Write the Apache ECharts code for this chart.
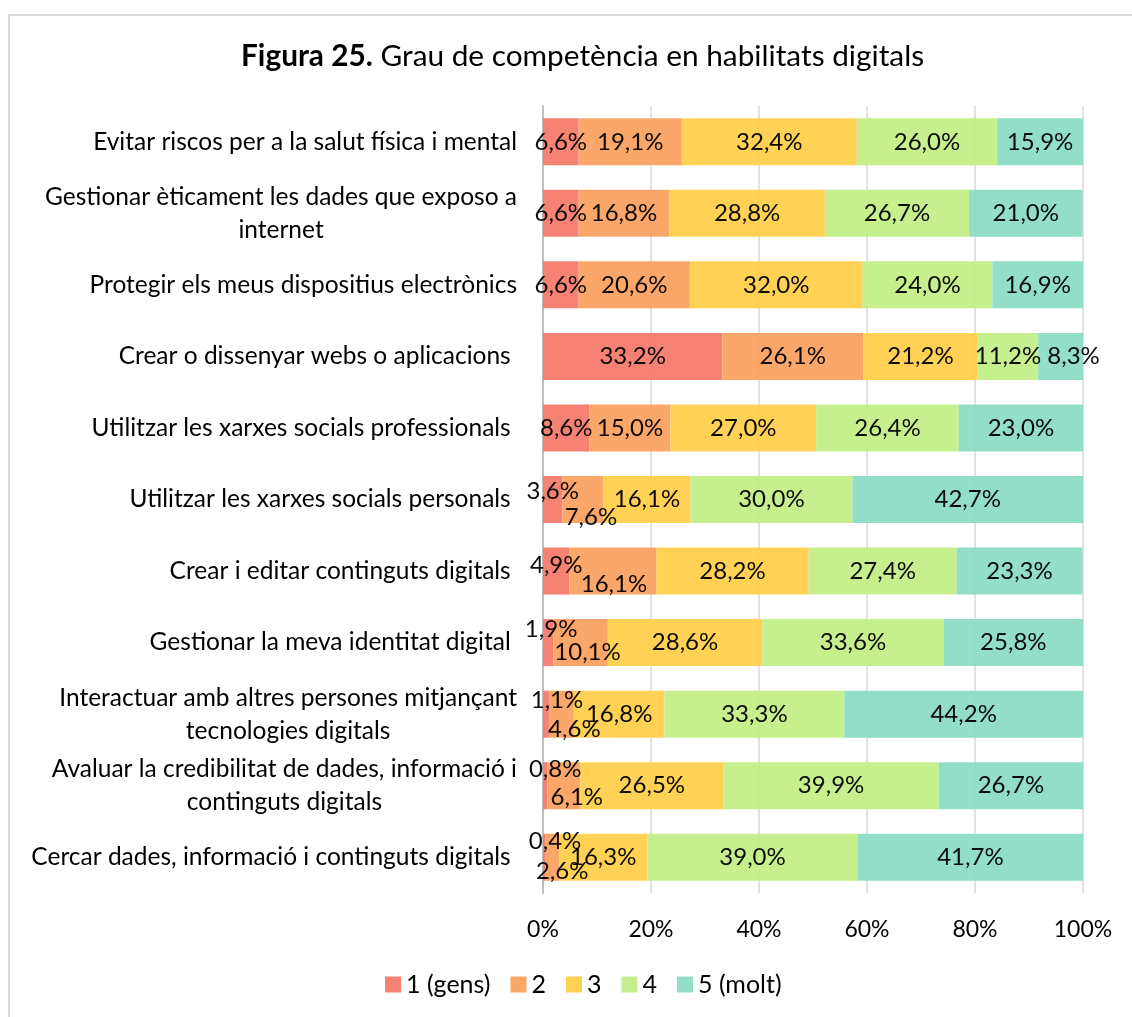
<!DOCTYPE html>
<html>
<head>
<meta charset="utf-8">
<script src="https://cdn.jsdelivr.net/npm/echarts@6/dist/echarts.min.js"></script>
<style>
  html,body{margin:0;padding:0;background:#fff;overflow:hidden}
  #frame{position:absolute;left:8px;top:14px;width:1200px;height:1100px;border:2px solid #d9d9d9}
  #chart{position:absolute;left:0;top:0;width:1132px;height:1017px}
</style>
</head>
<body>
<div id="frame"></div>
<div id="chart"></div>
<script>
const categories = [
  "Evitar riscos per a la salut física i mental",
  "Gestionar èticament les dades que exposo a\ninternet",
  "Protegir els meus dispositius electrònics",
  "Crear o dissenyar webs o aplicacions ",
  "Utilitzar les xarxes socials professionals ",
  "Utilitzar les xarxes socials personals ",
  "Crear i editar continguts digitals ",
  "Gestionar la meva identitat digital ",
  "Interactuar amb altres persones mitjançant\ntecnologies digitals",
  "Avaluar la credibilitat de dades, informació i\ncontinguts digitals",
  "Cercar dades, informació i continguts digitals "
];
const seriesNames = ["1 (gens)", "2", "3", "4", "5 (molt)"];
const gens1 = [6.6, 6.6, 6.6, 33.2, 8.6, 3.6, 4.9, 1.9, 1.1, 0.8, 0.4];
const val2  = [19.1, 16.8, 20.6, 26.1, 15.0, 7.6, 16.1, 10.1, 4.6, 6.1, 2.6];
const val3  = [32.4, 28.8, 32.0, 21.2, 27.0, 16.1, 28.2, 28.6, 16.8, 26.5, 16.3];
const val4  = [26.0, 26.7, 24.0, 11.2, 26.4, 30.0, 27.4, 33.6, 33.3, 39.9, 39.0];
const molt5 = [15.9, 21.0, 16.9, 8.3, 23.0, 42.7, 23.3, 25.8, 44.2, 26.7, 41.7];

const colors = ["#F47B6A", "#FCA262", "#FFD04D", "#C3EE88", "#8DDCC6"];
// label nudges for small segments, like Excel's collision placement
const nudge = {
  "0-5":[0,-8],  "1-5":[8,18],
  "0-6":[0,-6],  "1-6":[1,13],
  "0-7":[3,-13], "1-7":[7,10],
  "0-8":[11,-14],"1-8":[13,15],
  "0-9":[10,-16],"1-9":[13,12],
  "0-10":[11,-16],"1-10":[10,14],
  "4-3":[13,0]
};
const fmt = v => v.toFixed(1).replace(".", ",") + "%";
const FONT = "Lato";

const allVals = [gens1, val2, val3, val4, molt5];
const chart = echarts.init(document.getElementById("chart"));
chart.setOption({
  backgroundColor: "transparent",
  textStyle: {fontFamily: FONT},
  title: {
    text: "{b|Figura 25.} Grau de competència en habilitats digitals",
    left: 236, top: 36,
    textStyle: {fontSize: 29.8, fontWeight: "normal", color: "#000", fontFamily: FONT,
      rich: {b: {fontSize: 29.8, fontWeight: "bold", color: "#000", fontFamily: FONT}}}
  },
  legend: {
    bottom: 15, left: 380, itemWidth: 16, itemHeight: 16, itemGap: 20, icon: "rect",
    textStyle: {fontSize: 25, color: "#000", fontFamily: FONT}
  },
  grid: {left: 543, right: 49, top: 106, bottom: 124, containLabel: false},
  xAxis: {
    type: "value", min: 0, max: 100, interval: 20,
    axisLabel: {formatter: v => v + "%", fontSize: 23, color: "#000", margin: 25, fontFamily: FONT},
    axisLine: {show: false}, axisTick: {show: false},
    splitLine: {lineStyle: {color: "#d9d9d9", width: 1.5}}
  },
  yAxis: {
    type: "category", data: categories, inverse: true,
    axisTick: {show: false},
    axisLine: {lineStyle: {color: "#bfbfbf", width: 2}},
    axisLabel: {
      margin: 26, fontSize: 24.5, color: "#000", fontFamily: FONT, lineHeight: 33,
      formatter: v => v.split("\n").map(l => "{c|" + l + "}").join("\n"),
      rich: {c: {align: "center", fontSize: 24.5, color: "#000", fontFamily: FONT, lineHeight: 33}}
    }
  },
  series: seriesNames.map((name, s) => ({
    name, type: "bar", stack: "total", barWidth: 47,
    itemStyle: {color: colors[s], opacity: 0.95},
    data: allVals[s].map((v, r) => {
      const off = nudge[s + "-" + r];
      return off ? {value: v, label: {offset: off}} : v;
    }),
    label: {show: true, position: "inside", formatter: p => fmt(p.value),
      fontSize: 24, color: "#000", fontFamily: FONT}
  }))
});
</script>
</body>
</html>
